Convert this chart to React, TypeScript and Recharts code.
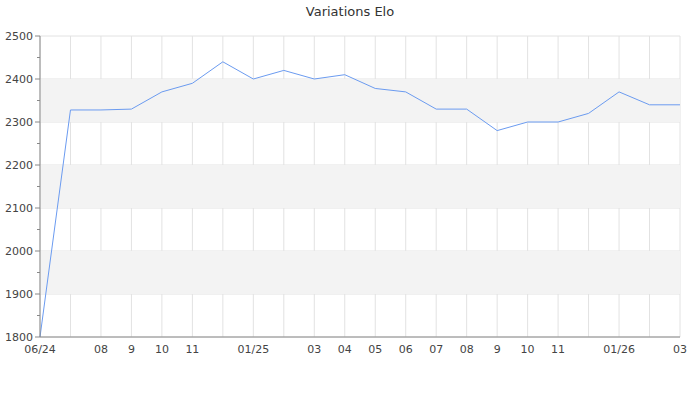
import React from 'react';
import { LineChart, Line, XAxis, YAxis, CartesianGrid, ReferenceArea } from 'recharts';

const categories = ['06/24','07/24','08/24','09/24','10/24','11/24','12/24','01/25','02/25','03/25','04/25','05/25','06/25','07/25','08/25','09/25','10/25','11/25','12/25','01/26','02/26','03/26'];
const tickLabels = ['06/24','','08','9','10','11','','01/25','','03','04','05','06','07','08','9','10','11','','01/26','','03'];
const eloValues = [1800,2328,2328,2330,2370,2390,2440,2400,2420,2400,2410,2378,2370,2330,2330,2280,2300,2300,2320,2370,2340,2340];
const yTicks = [1800,1850,1900,1950,2000,2050,2100,2150,2200,2250,2300,2350,2400,2450,2500];
const majorTicks = [1800,1900,2000,2100,2200,2300,2400,2500];
const bands: [number, number][] = [[2300,2400],[2100,2200],[1900,2000]];

const data = categories.map((c, i) => ({ cat: c, label: tickLabels[i], elo: eloValues[i] }));

const FONT = '"DejaVu Sans", sans-serif';

const YTick = (props: any) => {
  const { x, y, payload } = props;
  const v = payload.value as number;
  const major = v % 100 === 0;
  const ax = x + 7;
  return (
    <g>
      <line x1={ax - (major ? 5 : 3)} x2={ax} y1={y} y2={y} stroke="#888" strokeWidth={1} />
      {major && (
        <text x={x} y={y} dy={4} textAnchor="end" fontFamily={FONT} fontSize={11} fill="#444">{v}</text>
      )}
    </g>
  );
};

const XTick = (props: any) => {
  const { x, y, index } = props;
  const lbl = tickLabels[index];
  if (!lbl) return null;
  return (
    <text x={x} y={y} dy={8} textAnchor="middle" fontFamily={FONT} fontSize={11} fill="#444">{lbl}</text>
  );
};

export default function App() {
  return (
    <div style={{ position: 'absolute', left: 0, top: 0, width: 700, height: 400, background: '#fff' }}>
      <div style={{ position: 'absolute', left: 0, top: 4, width: 700, textAlign: 'center', fontFamily: FONT, fontSize: 13, color: '#333' }}>
        Variations Elo
      </div>
      <LineChart width={700} height={400} data={data} margin={{ top: 36, right: 20, left: 0, bottom: 33 }}>
        {bands.map((b, i) => (
          <ReferenceArea key={i} y1={b[0]} y2={b[1]} fill="#f3f3f3" fillOpacity={1} stroke="none" ifOverflow="hidden" />
        ))}
        <CartesianGrid stroke="#e2e2e2" horizontalValues={majorTicks} />
        <XAxis dataKey="cat" scale="point" padding={{ left: 0, right: 0 }} interval={0} tickLine={false} axisLine={{ stroke: '#888' }} tick={<XTick />} height={30} tickMargin={2} />
        <YAxis domain={[1800, 2500]} ticks={yTicks} interval={0} width={40} tickLine={false} tickSize={5} tickMargin={2} axisLine={{ stroke: '#888' }} tick={<YTick />} />
        <Line type="linear" dataKey="elo" stroke="#6b9bf0" strokeWidth={1} dot={false} isAnimationActive={false} />
      </LineChart>
    </div>
  );
}
